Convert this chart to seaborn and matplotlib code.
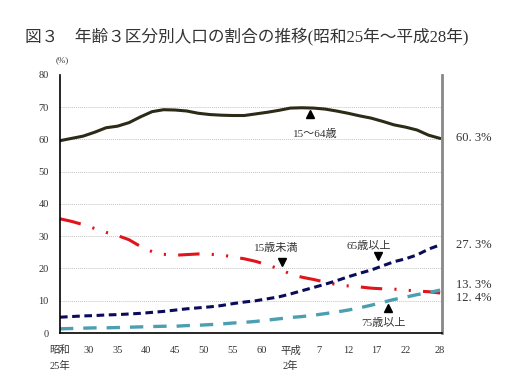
import numpy as np
import pandas as pd
import matplotlib
matplotlib.use("Agg")
import matplotlib.pyplot as plt
import seaborn as sns

years = list(range(1950, 2017, 2))

# 15-64歳
working = [59.6, 60.3, 61.0, 62.2, 63.6, 64.1, 65.2, 67.0, 68.6, 69.2,
           69.1, 68.8, 68.1, 67.7, 67.5, 67.4, 67.4, 67.9, 68.4, 69.0,
           69.7, 69.8, 69.7, 69.4, 68.8, 68.1, 67.3, 66.6, 65.6, 64.5,
           63.8, 62.9, 61.3, 60.3]
# 15歳未満
children = [35.4, 34.6, 33.6, 32.4, 31.2, 30.2, 28.9, 26.8, 25.2, 24.4,
            24.1, 24.3, 24.5, 24.4, 24.2, 23.6, 23.0, 22.2, 21.1, 19.9,
            18.3, 17.3, 16.6, 15.8, 15.0, 14.6, 14.3, 13.9, 13.7, 13.6,
            13.3, 13.0, 12.8, 12.4]
# 65歳以上
elderly = [4.9, 5.1, 5.3, 5.4, 5.6, 5.7, 5.9, 6.1, 6.4, 6.7,
           7.1, 7.5, 7.8, 8.1, 8.5, 9.1, 9.6, 10.0, 10.6, 11.2,
           12.1, 13.1, 14.1, 15.1, 16.2, 17.4, 18.5, 19.5, 20.8, 22.1,
           23.0, 24.2, 26.0, 27.3]
# 75歳以上
old_old = [1.3, 1.4, 1.5, 1.6, 1.6, 1.7, 1.8, 1.9, 2.0, 2.1,
           2.1, 2.3, 2.4, 2.6, 2.8, 3.1, 3.3, 3.6, 4.0, 4.4,
           4.8, 5.1, 5.5, 6.0, 6.5, 7.1, 7.8, 8.6, 9.5, 10.4,
           11.1, 11.9, 12.5, 13.3]

tick_years = [1950, 1955, 1960, 1965, 1970, 1975, 1980, 1985, 1990,
              1995, 2000, 2005, 2010, 2016]
tick_labels = ["昭和\n25年", "30", "35", "40", "45", "50", "55", "60",
               "平成\n2年", "7", "12", "17", "22", "28"]

end_labels = ["60. 3%", "27. 3%", "13. 3%", "12. 4%"]

sns.set_theme(style="white")
FONT = ["Liberation Serif", "Noto Sans CJK JP", "DejaVu Sans"]
plt.rcParams["font.family"] = FONT

df = pd.DataFrame({"year": years, "working": working, "children": children,
                   "elderly": elderly, "old_old": old_old})

fig = plt.figure(figsize=(5.26, 3.78), dpi=100)
ax = fig.add_axes([0.114, 0.119, 0.726, 0.683])

for v in range(10, 80, 10):
    ax.axhline(v, color="#c4c4c4", lw=0.7, ls=(0, (1, 1)), zorder=0)

sns.lineplot(data=df, x="year", y="working", ax=ax, color="#2b2b17", lw=2.2)
sns.lineplot(data=df, x="year", y="children", ax=ax, color="#e0141c", lw=2.2,
             linestyle=(0, (7, 4, 0.7, 4, 0.7, 4)))
sns.lineplot(data=df, x="year", y="elderly", ax=ax, color="#0b0b5c", lw=2.2,
             linestyle=(0, (2.5, 1.5)))
sns.lineplot(data=df, x="year", y="old_old", ax=ax, color="#4c9fb0", lw=2.4,
             linestyle=(0, (4, 3)))

ax.set_xlim(1950, 2016.3)
ax.set_ylim(0, 80)
ax.set_yticks(range(0, 81, 10))
ax.set_xticks(tick_years)
ax.set_xticklabels(tick_labels, fontsize=7.5, linespacing=1.7)
ax.tick_params(axis="y", labelsize=7.5, length=0, pad=8, colors="#333333")
ax.tick_params(axis="x", direction="in", length=4, width=1, color="black",
               pad=9, colors="#333333")
ax.set_xlabel("")
ax.set_ylabel("")

for s in ["left", "bottom"]:
    ax.spines[s].set_color("black")
    ax.spines[s].set_linewidth(1.2)
ax.spines["top"].set_visible(False)
ax.spines["right"].set_color("#888888")
ax.spines["right"].set_linewidth(2)

# end-of-line values
end_vals = [working[-1], elderly[-1], old_old[-1], children[-1]]
offsets = [0, 0, 1.5, -1.5]
for lab, v, o in zip(end_labels, end_vals, offsets):
    ax.annotate(lab, xy=(1, v + o), xycoords=("axes fraction", "data"),
                xytext=(10, 0), textcoords="offset points", fontsize=9,
                va="center", ha="left", color="#333333")

# series labels with markers
def label(text, x, y, tx, ty, marker):
    ax.plot([x], [y], marker=marker, color="black", ms=6, ls="none")
    ax.text(tx, ty, text, fontsize=8, ha="center", va="center", color="#333333")

label("15～64歳", 1993.4, 67.9, 1994.3, 61.6, "^")
label("15歳未満", 1988.6, 21.9, 1987.5, 26.3, "v")
label("65歳以上", 2005.3, 23.9, 2003.6, 27.1, "v")
label("75歳以上", 2007.0, 7.9, 2006.2, 3.1, "^")

fig.text(0.105, 0.835, "(%)", fontsize=6.5, color="#333333")
fig.text(0.048, 0.90, "図３　年齢３区分別人口の割合の推移(昭和25年～平成28年)",
         fontsize=12, color="#333333", va="center", ha="left")

fig.savefig("out.png", dpi=100)
